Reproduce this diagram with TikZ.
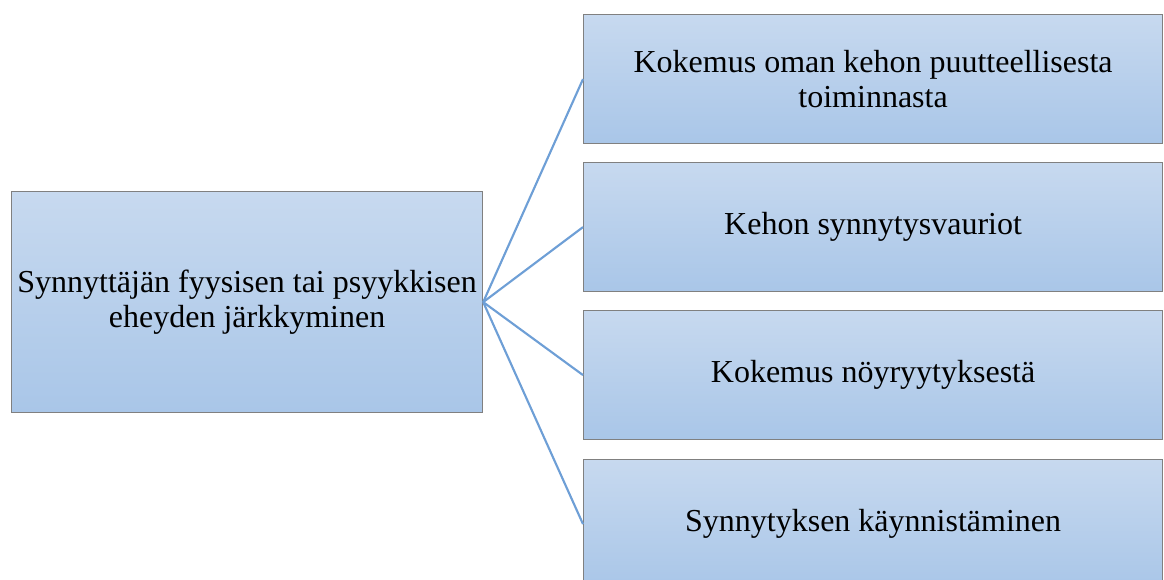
\documentclass[tikz,border=0pt]{standalone}
\usepackage{fontspec}
\setmainfont{Liberation Serif}
\begin{document}
\begin{tikzpicture}[x=0.75pt,y=-0.75pt,
  box/.style={draw=black!50, line width=0.9pt, top color=boxtop, bottom color=boxbot,
    align=center, inner sep=0pt, font=\fontsize{24}{26.5}\selectfont, anchor=north west},
  link/.style={draw=linkblue, line width=1.6pt}]
\definecolor{boxtop}{HTML}{C7D9EF}
\definecolor{boxbot}{HTML}{A9C6E8}
\definecolor{linkblue}{HTML}{6E9FD6}
\useasboundingbox (0,0) rectangle (1164,580);
% source box
\node[box, minimum width=471*0.75pt, minimum height=221*0.75pt] (src) at (11,191)
  {Synnyttäjän fyysisen tai psyykkisen\\eheyden järkkyminen};
% consequence boxes
\node[box, minimum width=579*0.75pt, minimum height=129*0.75pt] (k1) at (583,14)
  {Kokemus oman kehon puutteellisesta\\toiminnasta};
\node[box, minimum width=579*0.75pt, minimum height=129*0.75pt] (k2) at (583,162)
  {Kehon synnytysvauriot};
\node[box, minimum width=579*0.75pt, minimum height=129*0.75pt] (k3) at (583,310)
  {Kokemus nöyryytyksestä};
\node[box, minimum width=579*0.75pt, minimum height=129*0.75pt] (k4) at (583,459)
  {Synnytyksen käynnistäminen};
% connectors
\foreach \t in {k1,k2,k3,k4} \draw[link] (src.east) -- (\t.west);
\end{tikzpicture}
\end{document}
